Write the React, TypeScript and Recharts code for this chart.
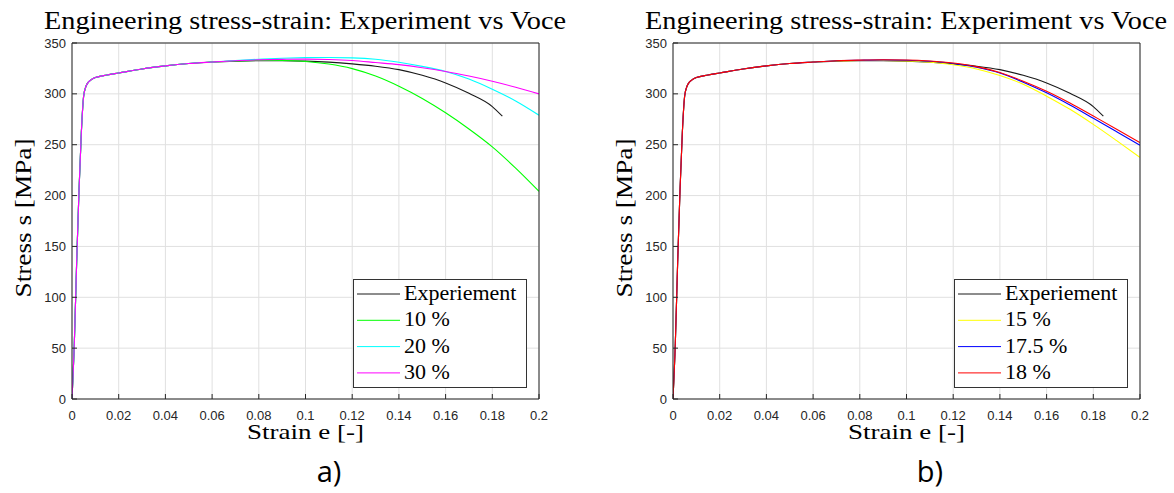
import React from 'react';
import { LineChart, Line, XAxis, YAxis, CartesianGrid, Legend, Label } from 'recharts';

// Axis ticks
const strainTicks = [0, 0.02, 0.04, 0.06, 0.08, 0.1, 0.12, 0.14, 0.16, 0.18, 0.2];
const stressTicks = [0, 50, 100, 150, 200, 250, 300, 350];

// Measured engineering curve
const expStrain = [
  0, 0.001, 0.002, 0.003, 0.004, 0.005, 0.006, 0.007, 0.008, 0.01, 0.015,
  0.02, 0.03, 0.04, 0.05, 0.06, 0.07, 0.08, 0.09, 0.1, 0.11, 0.12, 0.13,
  0.14, 0.15, 0.16, 0.17, 0.18, 0.1843,
];
const expStress = [
  0, 55, 135, 205, 262, 298, 307.5, 311.5, 313.5, 316, 318.5,
  320.5, 324.5, 327.5, 329.8, 331.3, 332.2, 332.6, 332.6, 332.2, 331.2, 329.5, 327.2,
  323.8, 318.2, 310.7, 300.5, 287.5, 278,
];

// Voce model curves (shared strain grid)
const voceStrain = [
  0, 0.001, 0.002, 0.003, 0.004, 0.005, 0.006, 0.007, 0.008, 0.01, 0.015,
  0.02, 0.03, 0.04, 0.05, 0.06, 0.07, 0.08, 0.09, 0.1, 0.11, 0.12, 0.13,
  0.14, 0.15, 0.16, 0.17, 0.18, 0.19, 0.2,
];
const voce10 = [
  0, 55, 135, 205, 262, 298, 307.5, 311.5, 313.5, 316, 318.5,
  320.5, 324.5, 327.5, 329.8, 331.3, 332.3, 332.8, 332.8, 331.8, 329.3, 324.8, 317.5,
  307.5, 295.5, 281.4, 265.5, 247.9, 227, 204.2,
];
const voce20 = [
  0, 55, 135, 205, 262, 298, 307.5, 311.5, 313.5, 316, 318.5,
  320.5, 324.5, 327.5, 329.8, 331.3, 332.8, 334, 335, 335.6, 335.8, 335.4, 334,
  331, 327, 322, 314.5, 304.5, 293, 279,
];
const voce30 = [
  0, 55, 135, 205, 262, 298, 307.5, 311.5, 313.5, 316, 318.5,
  320.5, 324.5, 327.5, 329.8, 331.3, 332.6, 333.4, 333.9, 334.1, 333.8, 332.8, 330.8,
  328.7, 325.7, 322, 317.5, 312.4, 306.5, 300,
];
const voce15 = [
  0, 55, 135, 205, 262, 298, 307.5, 311.5, 313.5, 316, 318.5,
  320.5, 324.5, 327.5, 329.8, 331.3, 332.3, 332.8, 332.8, 332.3, 331, 328.6, 324.5,
  318, 309.5, 297.7, 284.8, 270, 254, 237.5,
];
const voce175 = [
  0, 55, 135, 205, 262, 298, 307.5, 311.5, 313.5, 316, 318.5,
  320.5, 324.5, 327.5, 329.8, 331.3, 332.6, 333.1, 333.4, 333.1, 332, 329.9, 326.2,
  320.5, 311.5, 301, 289, 276, 262.8, 249.5,
];
const voce18 = [
  0, 55, 135, 205, 262, 298, 307.5, 311.5, 313.5, 316, 318.5,
  320.5, 324.5, 327.5, 329.8, 331.3, 332.6, 333.2, 333.5, 333.3, 332.3, 330.3, 326.8,
  321, 312.5, 302.6, 291, 278.2, 265.3, 252.1,
];

const FONT_SERIF = '"Liberation Serif", "Times New Roman", serif';
const FONT_SANS = '"Liberation Sans", Arial, sans-serif';
const FONT_TAG = '"Open Sans", "Noto Sans", sans-serif';
const AXIS = '#262626';

type Series = { name: string; color: string; strain: number[]; stress: number[] };

const toPoints = (xs: number[], ys: number[]) => xs.map((x, i) => ({ strain: x, stress: ys[i] }));
const fmtStrain = (v: number) => (v === 0 ? '0' : String(+v.toFixed(2)));

const experiment: Series = { name: 'Experiement', color: '#1a1a1a', strain: expStrain, stress: expStress };

const panelA: Series[] = [
  { name: '10 %', color: '#00ff00', strain: voceStrain, stress: voce10 },
  { name: '20 %', color: '#00ffff', strain: voceStrain, stress: voce20 },
  { name: '30 %', color: '#ff00ff', strain: voceStrain, stress: voce30 },
];
const panelB: Series[] = [
  { name: '15 %', color: '#ffff00', strain: voceStrain, stress: voce15 },
  { name: '17.5 %', color: '#0000ff', strain: voceStrain, stress: voce175 },
  { name: '18 %', color: '#ff0000', strain: voceStrain, stress: voce18 },
];

const CHART_W = 560;
const CHART_H = 460;

function LegendBox({ items }: { items: Series[] }) {
  return (
    <svg width={174} height={109} style={{ display: 'block' }}>
      <rect x={0.5} y={0.5} width={173} height={108} fill="#fff" stroke="#333" strokeWidth={1} />
      {items.map((s, i) => {
        const cy = 15 + i * 26.3;
        return (
          <g key={s.name}>
            <line x1={4} x2={47} y1={cy} y2={cy} stroke={s.color} strokeWidth={1} />
            <text x={51} y={cy + 6} fontFamily={FONT_SERIF} fontSize={22} fill="#000">
              {s.name}
            </text>
          </g>
        );
      })}
    </svg>
  );
}

function XTitle(props: any) {
  const vb = props.viewBox || { x: 72, y: 399, width: 467, height: 61 };
  return (
    <text
      x={vb.x + vb.width / 2}
      y={vb.y + 40}
      textAnchor="middle"
      fontFamily={FONT_SERIF}
      fontSize={22}
      textLength={117}
      lengthAdjust="spacingAndGlyphs"
      fill="#000"
    >
      Strain e [-]
    </text>
  );
}

function YTitle(props: any) {
  const vb = props.viewBox || { x: 0, y: 43, width: 72, height: 356 };
  const cy = vb.y + vb.height / 2 - 3;
  return (
    <text
      x={31}
      y={cy}
      transform={`rotate(-90 31 ${cy})`}
      textAnchor="middle"
      fontFamily={FONT_SERIF}
      fontSize={23}
      textLength={159}
      lengthAdjust="spacingAndGlyphs"
      fill="#000"
    >
      Stress s [MPa]
    </text>
  );
}

function Panel({ left, models, tag }: { left: number; models: Series[]; tag: string }) {
  const all = [experiment, ...models];
  return (
    <div style={{ position: 'absolute', left, top: 0, width: 600, height: 493 }}>
      <LineChart
        width={CHART_W}
        height={CHART_H}
        margin={{ top: 42, right: 20, bottom: 0, left: 0 }}
        style={{ position: 'absolute', left: 0, top: 0 }}
      >
        <CartesianGrid stroke="#e0e0e0" strokeWidth={1} />
        <XAxis
          type="number"
          dataKey="strain"
          domain={[0, 0.2]}
          ticks={strainTicks}
          tickFormatter={fmtStrain}
          interval={0}
          height={61}
          tickSize={-5}
          tickMargin={17}
          stroke={AXIS}
          tickLine={{ stroke: AXIS }}
          tick={{ fill: AXIS, fontSize: 13, fontFamily: FONT_SANS }}
          allowDataOverflow
        >
          <Label content={XTitle} />
        </XAxis>
        <XAxis
          xAxisId="top"
          orientation="top"
          type="number"
          dataKey="strain"
          domain={[0, 0.2]}
          ticks={strainTicks}
          interval={0}
          height={1}
          tickSize={-5}
          tick={false}
          stroke={AXIS}
          tickLine={{ stroke: AXIS }}
          allowDataOverflow
        />
        <YAxis
          type="number"
          domain={[0, 350]}
          ticks={stressTicks}
          interval={0}
          width={72}
          tickSize={-5}
          tickMargin={11}
          stroke={AXIS}
          tickLine={{ stroke: AXIS }}
          tick={{ fill: AXIS, fontSize: 13, fontFamily: FONT_SANS }}
          allowDataOverflow
        >
          <Label content={YTitle} />
        </YAxis>
        <YAxis
          yAxisId="right"
          orientation="right"
          type="number"
          domain={[0, 350]}
          ticks={stressTicks}
          interval={0}
          width={1}
          tickSize={-5}
          tick={false}
          stroke={AXIS}
          tickLine={{ stroke: AXIS }}
          allowDataOverflow
        />
        {all.map((s) => (
          <Line
            key={s.name}
            data={toPoints(s.strain, s.stress)}
            dataKey="stress"
            name={s.name}
            type="monotone"
            stroke={s.color}
            strokeWidth={1.1}
            dot={false}
            activeDot={false}
            isAnimationActive={false}
          />
        ))}
        <Legend
          layout="horizontal"
          align="center"
          verticalAlign="middle"
          content={() => <LegendBox items={all} />}
          wrapperStyle={{ position: 'absolute', left: 353, top: 279, width: 174, height: 109 }}
        />
      </LineChart>
      <svg width={600} height={493} style={{ position: 'absolute', left: 0, top: 0, pointerEvents: 'none' }}>
        <text
          x={305}
          y={29}
          textAnchor="middle"
          fontFamily={FONT_SERIF}
          fontSize={25}
          textLength={522}
          lengthAdjust="spacingAndGlyphs"
          fill="#000"
        >
          Engineering stress-strain: Experiment vs Voce
        </text>
        <text x={329} y={482} textAnchor="middle" fontFamily={FONT_TAG} fontSize={29} fill="#000">
          {tag}
        </text>
      </svg>
    </div>
  );
}

export default function App() {
  return (
    <div style={{ position: 'absolute', left: 0, top: 0, width: 1174, height: 493, background: '#fff', overflow: 'hidden' }}>
      <Panel left={0} models={panelA} tag="a)" />
      <Panel left={601} models={panelB} tag="b)" />
    </div>
  );
}
